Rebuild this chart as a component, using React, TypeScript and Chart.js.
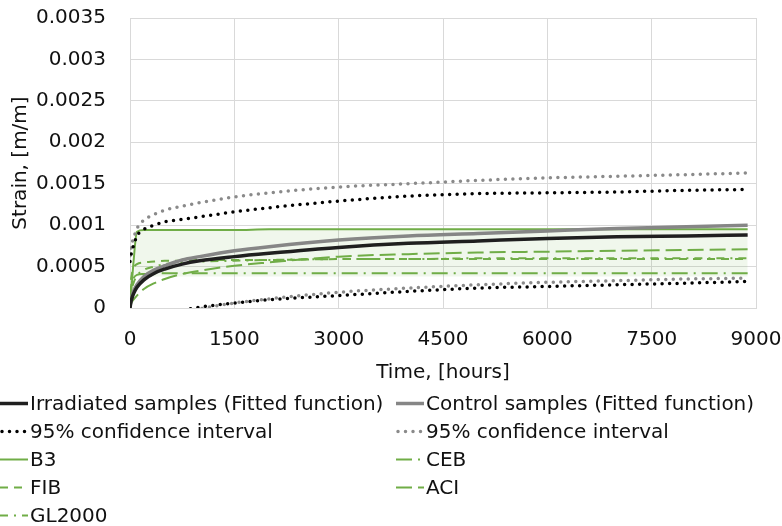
import React, { useEffect, useRef } from 'react';
import { Chart, registerables } from 'chart.js';

Chart.register(...registerables);

// ---- data ----
const times = [0, 10, 25, 50, 100, 200, 350, 500, 750, 1000, 1500, 2000, 3000, 4000, 5000, 6000, 7000, 8000, 8880];

const irradiatedFit = [0, 0.00006, 0.00011, 0.00017, 0.00025, 0.00034, 0.00042, 0.00047, 0.00053, 0.00057, 0.00062, 0.00066, 0.00073, 0.00078, 0.00081, 0.00084, 0.00086, 0.00087, 0.00088];
const controlFit = [0, 0.00007, 0.00013, 0.0002, 0.00028, 0.00038, 0.00046, 0.00051, 0.00058, 0.00062, 0.00069, 0.00074, 0.00082, 0.00087, 0.0009, 0.00093, 0.00096, 0.00098, 0.001];
const irradiatedUpper = [0.00056, 0.00062, 0.00068, 0.00075, 0.00087, 0.00095, 0.001, 0.00104, 0.00107, 0.0011, 0.00116, 0.00121, 0.00129, 0.00135, 0.00138, 0.00139, 0.0014, 0.00142, 0.00143];
const irradiatedLower = [-0.00056, -0.0005, -0.00045, -0.00039, -0.00031, -0.00022, -0.00014, -0.00009, -0.00003, 0.00001, 0.00006, 0.0001, 0.00015, 0.0002, 0.00024, 0.00026, 0.00028, 0.0003, 0.00032];
const controlUpper = [0.00063, 0.0007, 0.00077, 0.00084, 0.00096, 0.00106, 0.00113, 0.00118, 0.00123, 0.00127, 0.00134, 0.00139, 0.00146, 0.0015, 0.00154, 0.00157, 0.00159, 0.00161, 0.00163];
const controlLower = [-0.00063, -0.00056, -0.0005, -0.00043, -0.00035, -0.00025, -0.00017, -0.00012, -0.00005, -0.00001, 0.00006, 0.00011, 0.00019, 0.00024, 0.00028, 0.00031, 0.00033, 0.00035, 0.00036];

const b3 = [0, 0.0001, 0.00027, 0.00055, 0.00092, 0.00094, 0.00094, 0.00094, 0.00094, 0.00094, 0.00094, 0.00095, 0.00095, 0.00095, 0.00095, 0.00095, 0.00095, 0.00095, 0.00095];
const ceb = [0, 0.00022, 0.0003, 0.00036, 0.0004, 0.00041, 0.00042, 0.00042, 0.00042, 0.00042, 0.00042, 0.00042, 0.00042, 0.00042, 0.00042, 0.00042, 0.00042, 0.00042, 0.00042];
const fib = [0, 0.00028, 0.0004, 0.00048, 0.00053, 0.00055, 0.00056, 0.00057, 0.00057, 0.00058, 0.00058, 0.00058, 0.00059, 0.00059, 0.00059, 0.00059, 0.00059, 0.00059, 0.00059];
const aci = [0, 0.00004, 0.00007, 0.0001, 0.00015, 0.00023, 0.0003, 0.00035, 0.00041, 0.00045, 0.00051, 0.00055, 0.00062, 0.00065, 0.00067, 0.00068, 0.00069, 0.0007, 0.00071];
const gl2000 = [0, 0.00012, 0.00022, 0.0003, 0.00039, 0.00046, 0.0005, 0.00053, 0.00055, 0.00056, 0.00057, 0.00058, 0.00059, 0.00059, 0.0006, 0.0006, 0.0006, 0.0006, 0.0006];

const bandTimes = [60, 100, 200, 500, 1000, 3000, 6000, 8880];
const bandUpper = [0.00093, 0.00093, 0.00094, 0.00094, 0.00094, 0.00095, 0.00095, 0.00095];
const bandLower = [0.00038, 0.00038, 0.00038, 0.00038, 0.00038, 0.00038, 0.00038, 0.00038];

const xTicks = [0, 1500, 3000, 4500, 6000, 7500, 9000];
const yTicks = [0, 0.0005, 0.001, 0.0015, 0.002, 0.0025, 0.003, 0.0035];

const legendLabels = [
  'Irradiated samples (Fitted function)',
  'Control samples (Fitted function)',
  '95% confidence interval',
  '95% confidence interval',
  'B3',
  'CEB',
  'FIB',
  'ACI',
  'GL2000',
];

const FONT = '"DejaVu Sans", sans-serif';
const TEXT = '#111111';
const GREEN = '#70ad47';

export default function App() {
  const ref = useRef<HTMLCanvasElement>(null);

  useEffect(() => {
    if (!ref.current) return;
    const pts = (xs: number[], ys: number[]) => xs.map((x, i) => ({ x, y: ys[i] }));
    const line = (label: string, ys: number[], color: string, width: number, dash: number[], extra: any = {}) => ({
      label,
      data: pts(times, ys),
      borderColor: color,
      backgroundColor: color,
      borderWidth: width,
      borderDash: dash,
      pointRadius: 0,
      fill: false,
      cubicInterpolationMode: 'monotone',
      ...extra,
    });
    const dots = { borderCapStyle: 'round' };

    const datasets: any[] = [
      line(legendLabels[0], irradiatedFit, '#1f1f1f', 3.5, [], { order: 1 }),
      line(legendLabels[1], controlFit, '#868686', 3.5, [], { order: 2 }),
      line(legendLabels[2], irradiatedUpper, '#000000', 3.5, [0, 7.5], { ...dots, order: 3 }),
      line(legendLabels[3], controlUpper, '#8a8a8a', 3.5, [0, 7.5], { ...dots, order: 4 }),
      line(legendLabels[4], b3, GREEN, 2, [], { order: 5 }),
      line(legendLabels[5], ceb, GREEN, 2, [16, 6, 2, 6], { order: 6 }),
      line(legendLabels[6], fib, GREEN, 2, [8, 6], { order: 7 }),
      line(legendLabels[7], aci, GREEN, 2, [16, 6], { order: 8 }),
      line(legendLabels[8], gl2000, GREEN, 2, [8, 6, 2, 6], { order: 9 }),
      line('', irradiatedLower, '#000000', 3.5, [0, 7.5], { ...dots, order: 3 }),
      line('', controlLower, '#8a8a8a', 3.5, [0, 7.5], { ...dots, order: 4 }),
      {
        label: '',
        data: pts(bandTimes, bandUpper),
        borderColor: 'rgba(0,0,0,0)',
        borderWidth: 0,
        pointRadius: 0,
        backgroundColor: 'rgba(112,173,71,0.1)',
        fill: '+1',
        order: 100,
      },
      {
        label: '',
        data: pts(bandTimes, bandLower),
        borderColor: 'rgba(0,0,0,0)',
        borderWidth: 0,
        pointRadius: 0,
        fill: false,
        order: 101,
      },
    ];

    const legendOrder = [0, 1, 2, 3, 4, 5, 6, 7, 8];

    const excelLegend = {
      id: 'excelLegend',
      afterDraw(chart: any) {
        const ctx = chart.ctx as CanvasRenderingContext2D;
        ctx.save();
        ctx.font = `20px ${FONT}`;
        ctx.textBaseline = 'middle';
        legendOrder.forEach((dsIndex, i) => {
          const ds = chart.data.datasets[dsIndex];
          const col = i % 2;
          const row = Math.floor(i / 2);
          const x = col === 0 ? 0 : 396;
          const y = 403.5 + row * 28;
          ctx.save();
          ctx.strokeStyle = ds.borderColor;
          ctx.lineWidth = ds.borderWidth;
          ctx.setLineDash(ds.borderDash || []);
          ctx.lineCap = ds.borderCapStyle || 'butt';
          ctx.beginPath();
          ctx.moveTo(x + (ds.borderCapStyle === 'round' ? 2 : 0), y);
          ctx.lineTo(x + 28, y);
          ctx.stroke();
          ctx.restore();
          ctx.fillStyle = TEXT;
          ctx.fillText(ds.label, x + 30, y + 1);
        });
        ctx.restore();
      },
    };

    const chart = new Chart(ref.current, {
      type: 'line',
      data: { datasets },
      plugins: [excelLegend],
      options: {
        animation: false,
        responsive: true,
        maintainAspectRatio: false,
        layout: { padding: { top: 18, right: 26, bottom: 138, left: 0 } },
        plugins: {
          legend: { display: false },
          tooltip: { enabled: false },
        },
        scales: {
          x: {
            type: 'linear',
            min: 0,
            max: 9000,
            afterBuildTicks: (s: any) => {
              s.ticks = xTicks.map((v) => ({ value: v }));
            },
            afterFit: (s: any) => {
              s.height = 80;
              s.paddingLeft = 0;
              s.paddingRight = 0;
            },
            ticks: {
              padding: 20,
              color: TEXT,
              font: { family: FONT, size: 20 },
              callback: (v: any) => String(v),
              maxRotation: 0,
            },
            grid: { color: '#d9d9d9', drawTicks: false },
            border: { color: '#d9d9d9' },
            title: {
              display: true,
              text: 'Time, [hours]',
              color: TEXT,
              font: { family: FONT, size: 20 },
              padding: { top: 0, bottom: 3 },
            },
          },
          y: {
            type: 'linear',
            min: 0,
            max: 0.0035,
            afterBuildTicks: (s: any) => {
              s.ticks = yTicks.map((v) => ({ value: v }));
            },
            afterFit: (s: any) => {
              s.width = 130;
              s.paddingTop = 0;
              s.paddingBottom = 0;
            },
            ticks: {
              padding: 24,
              color: TEXT,
              font: { family: FONT, size: 20 },
              callback: (v: any) => String(Number(Number(v).toFixed(4))),
            },
            grid: { color: '#d9d9d9', drawTicks: false },
            border: { color: '#d9d9d9' },
            title: {
              display: true,
              text: 'Strain, [m/m]',
              color: TEXT,
              font: { family: FONT, size: 20 },
              padding: { top: 9, bottom: 0 },
            },
          },
        },
      },
    });
    return () => chart.destroy();
  }, []);

  return (
    <div style={{ position: 'fixed', left: 0, top: 0, width: 782, height: 526, background: '#ffffff' }}>
      <canvas ref={ref} />
    </div>
  );
}
